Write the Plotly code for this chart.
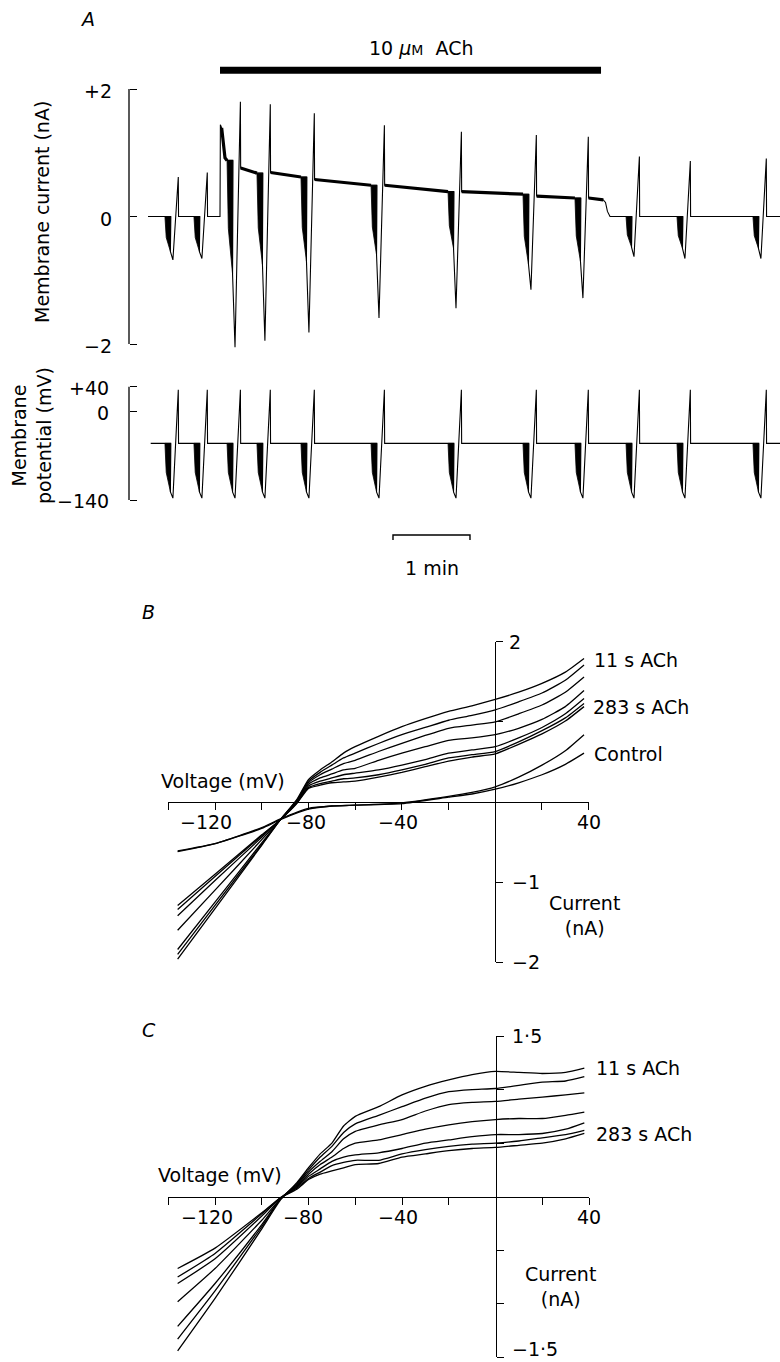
import plotly.graph_objects as go

W, H = 780, 1362
FONT = "DejaVu Sans"
INK = "black"
FS = 19

# ---------------------------------------------------------------
# Panel A: continuous record (time in s from start of record)
# ---------------------------------------------------------------
ach_on, ach_off = 56.1, 353.0
record_end = 492.5
ramp_t = [13.2, 35.8, 61.6, 84.9, 119.2, 173.8, 233.8, 292.2, 332.7, 372.5, 412.2, 471.4]
# membrane current (nA) around each voltage protocol
hold_pre = [0.0, 0.0, 0.88, 0.68, 0.62, 0.49, 0.39, 0.35, 0.29, 0.0, 0.0, 0.0]
hold_post = [0.0, 0.0, 0.76, 0.69, 0.58, 0.49, 0.39, 0.32, 0.29, 0.0, 0.0, 0.0]
step_min = [-0.55, -0.55, -0.90, -0.75, -0.70, -0.60, -0.50, -0.75, -0.70, -0.48, -0.50, -0.50]
ramp_min = [-0.68, -0.66, -2.05, -1.95, -1.82, -1.59, -1.44, -1.15, -1.28, -0.63, -0.66, -0.66]
ramp_max = [0.62, 0.69, 1.80, 1.76, 1.62, 1.43, 1.33, 1.28, 1.25, 0.94, 0.87, 0.91]
# holding current where it changes between protocols
onset_t = [56.1, 56.4, 57.4, 58.7, 60.0]
onset_i = [0.0, 1.44, 1.39, 1.13, 0.92]
wash_t = [354.8, 356.5, 358.0, 360.0]
wash_i = [0.26, 0.22, 0.08, 0.0]
# membrane potential (mV) of the protocol
v_hold, v_step, v_ramp_lo, v_ramp_hi = -50, -127, -137, 35
v_start = 2.1
scale_bar_t0, scale_bar_len = 190.9, 60.0

# timing inside one protocol (s after its start)
STEP_END, TIP, PEAK, BACK = 4.5, 6.2, 10.4, 10.6

# ---------------------------------------------------------------
# Panels B and C: current-voltage relations
# ---------------------------------------------------------------
V_iv = [-136, -120, -100, -92, -85, -80, -75, -70, -65, -60, -50, -40, -30, -20, -10, 0, 10, 20, 30, 38]
B_ach = [
    [-1.96, -1.33, -0.54, -0.22, 0.03, 0.28, 0.40, 0.50, 0.61, 0.69, 0.82, 0.94, 1.04, 1.13, 1.20, 1.28, 1.37, 1.48, 1.62, 1.79],
    [-1.90, -1.29, -0.53, -0.22, 0.02, 0.26, 0.37, 0.46, 0.55, 0.61, 0.73, 0.84, 0.93, 1.02, 1.08, 1.15, 1.25, 1.36, 1.52, 1.71],
    [-1.84, -1.25, -0.51, -0.22, 0.01, 0.24, 0.34, 0.41, 0.48, 0.52, 0.63, 0.73, 0.83, 0.92, 0.96, 1.00, 1.10, 1.21, 1.37, 1.56],
    [-1.60, -1.10, -0.47, -0.22, 0.00, 0.22, 0.30, 0.35, 0.40, 0.42, 0.52, 0.61, 0.69, 0.77, 0.80, 0.84, 0.92, 1.03, 1.19, 1.39],
    [-1.42, -0.98, -0.44, -0.22, -0.01, 0.20, 0.26, 0.30, 0.34, 0.36, 0.40, 0.46, 0.53, 0.61, 0.65, 0.69, 0.80, 0.93, 1.10, 1.29],
    [-1.34, -0.93, -0.42, -0.22, -0.01, 0.18, 0.23, 0.26, 0.29, 0.30, 0.34, 0.40, 0.47, 0.55, 0.59, 0.63, 0.75, 0.89, 1.05, 1.23],
    [-1.29, -0.90, -0.41, -0.22, -0.02, 0.17, 0.21, 0.24, 0.25, 0.26, 0.31, 0.37, 0.44, 0.51, 0.56, 0.60, 0.72, 0.85, 1.01, 1.19],
]
V_ctrl = [-136, -120, -100, -92, -80, -70, -60, -40, -20, -10, 0, 10, 20, 30, 38]
B_ctrl = [
    [-0.61, -0.52, -0.32, -0.21, -0.08, -0.05, -0.04, -0.01, 0.07, 0.12, 0.19, 0.31, 0.46, 0.64, 0.84],
    [-0.62, -0.52, -0.33, -0.22, -0.09, -0.05, -0.04, -0.02, 0.06, 0.10, 0.16, 0.24, 0.34, 0.47, 0.61],
]
C_ach = [
    [-1.44, -0.95, -0.30, -0.03, 0.13, 0.27, 0.40, 0.50, 0.66, 0.75, 0.84, 0.95, 1.03, 1.09, 1.14, 1.17, 1.16, 1.15, 1.16, 1.20],
    [-1.33, -0.88, -0.28, -0.02, 0.12, 0.25, 0.37, 0.47, 0.60, 0.68, 0.76, 0.84, 0.92, 0.98, 1.00, 1.01, 1.04, 1.07, 1.08, 1.12],
    [-1.21, -0.81, -0.26, -0.02, 0.11, 0.23, 0.33, 0.42, 0.54, 0.61, 0.67, 0.72, 0.80, 0.86, 0.88, 0.89, 0.91, 0.93, 0.95, 0.97],
    [-0.98, -0.67, -0.22, -0.02, 0.10, 0.21, 0.30, 0.37, 0.45, 0.50, 0.53, 0.58, 0.63, 0.67, 0.70, 0.72, 0.73, 0.73, 0.76, 0.79],
    [-0.81, -0.58, -0.18, -0.01, 0.09, 0.19, 0.26, 0.33, 0.37, 0.39, 0.41, 0.45, 0.50, 0.53, 0.56, 0.58, 0.58, 0.59, 0.63, 0.69],
    [-0.75, -0.53, -0.16, -0.01, 0.08, 0.17, 0.23, 0.29, 0.32, 0.34, 0.34, 0.40, 0.44, 0.47, 0.49, 0.50, 0.52, 0.55, 0.58, 0.62],
    [-0.67, -0.48, -0.15, -0.01, 0.07, 0.16, 0.21, 0.24, 0.27, 0.30, 0.31, 0.37, 0.40, 0.43, 0.45, 0.46, 0.48, 0.50, 0.54, 0.59],
]


def px_x(p):
    return p / W


def px_y(p):
    return 1 - p / H


def dom(zero_px, px_per_unit, lo, hi):
    """paper-coordinate domain for a vertical axis spanning [lo, hi]"""
    return [px_y(zero_px - lo * px_per_unit), px_y(zero_px - hi * px_per_unit)]


# ---------------- build the current record ----------------
knots = sorted(zip(onset_t + wash_t, onset_i + wash_i))
pts = [(0.0, 0.0, True)]
wedge_x, wedge_y = [], []
k = 0
for i, t0 in enumerate(ramp_t):
    while k < len(knots) and knots[k][0] < t0:
        pts.append((knots[k][0], knots[k][1], True))
        k += 1
    pre, post = hold_pre[i], hold_post[i]
    pts += [(t0, pre, True), (t0 + STEP_END, pre, False),
            (t0 + STEP_END * 0.95, step_min[i], False), (t0 + TIP, ramp_min[i], False),
            (t0 + PEAK, ramp_max[i], False), (t0 + BACK, post, True)]
    wedge_x += [t0, t0 + STEP_END, t0 + STEP_END * 0.95, t0 + 1.0, t0, None]
    wedge_y += [pre, pre, step_min[i], pre + 0.6 * (step_min[i] - pre), pre, None]
while k < len(knots):
    pts.append((knots[k][0], knots[k][1], True))
    k += 1
pts.append((record_end, 0.0, True))

cur_x = [p[0] for p in pts]
cur_y = [p[1] for p in pts]

# heavier trace where the holding current is noisy in ACh
thick_x, thick_y = [], []
for t, y, held in pts:
    if held and onset_t[2] <= t <= wash_t[0]:
        thick_x.append(t)
        thick_y.append(y)
    elif thick_x and thick_x[-1] is not None:
        thick_x.append(None)
        thick_y.append(None)

# ---------------- build the potential record ----------------
pot_x, pot_y = [v_start], [v_hold]
pw_x, pw_y = [], []
for t0 in ramp_t:
    pot_x += [t0, t0 + STEP_END, t0 + STEP_END * 0.95, t0 + TIP, t0 + PEAK, t0 + BACK]
    pot_y += [v_hold, v_hold, v_step, v_ramp_lo, v_ramp_hi, v_hold]
    pw_x += [t0, t0 + STEP_END, t0 + STEP_END * 0.95, t0 + 1.0, t0, None]
    pw_y += [v_hold, v_hold, v_step, v_hold + 0.6 * (v_step - v_hold), v_hold, None]
pot_x.append(record_end)
pot_y.append(v_hold)

fig = go.Figure()

line_thin = dict(color=INK, width=1.1)
fig.add_trace(go.Scatter(x=wedge_x, y=wedge_y, xaxis="x", yaxis="y", mode="lines",
                         fill="toself", fillcolor=INK, line=dict(color=INK, width=0.8),
                         hoverinfo="skip"))
fig.add_trace(go.Scatter(x=cur_x, y=cur_y, xaxis="x", yaxis="y", mode="lines",
                         line=line_thin, hoverinfo="skip"))
fig.add_trace(go.Scatter(x=thick_x, y=thick_y, xaxis="x", yaxis="y", mode="lines",
                         line=dict(color=INK, width=3.2), hoverinfo="skip"))
fig.add_trace(go.Scatter(x=pw_x, y=pw_y, xaxis="x", yaxis="y2", mode="lines",
                         fill="toself", fillcolor=INK, line=dict(color=INK, width=0.8),
                         hoverinfo="skip"))
fig.add_trace(go.Scatter(x=pot_x, y=pot_y, xaxis="x", yaxis="y2", mode="lines",
                         line=line_thin, hoverinfo="skip"))

iv_line = dict(color=INK, width=1.3, shape="spline", smoothing=0.5)
for curve in B_ach:
    fig.add_trace(go.Scatter(x=V_iv, y=curve, xaxis="x2", yaxis="y3", mode="lines",
                             line=iv_line, hoverinfo="skip"))
for curve in B_ctrl:
    fig.add_trace(go.Scatter(x=V_ctrl, y=curve, xaxis="x2", yaxis="y3", mode="lines",
                             line=iv_line, hoverinfo="skip"))
for curve in C_ach:
    fig.add_trace(go.Scatter(x=V_iv, y=curve, xaxis="x3", yaxis="y4", mode="lines",
                             line=iv_line, hoverinfo="skip"))

# ---------------- axes ----------------
t_per_px = 60 / 77
hidden = dict(visible=False, showgrid=False, zeroline=False)
tick_common = dict(showgrid=False, zeroline=False, showticklabels=False,
                   tickcolor=INK, tickwidth=1.3, ticklen=7, linecolor=INK, linewidth=1.3)

layout = dict(
    width=W, height=H, margin=dict(l=0, r=0, t=0, b=0),
    paper_bgcolor="white", plot_bgcolor="rgba(0,0,0,0)", showlegend=False,
    font=dict(family=FONT, size=FS, color=INK),
    xaxis=dict(domain=[0, 1], range=[-148 * t_per_px, (W - 148) * t_per_px], **hidden),
    yaxis=dict(domain=dom(216.5, 63.75, -2.2, 2.2), range=[-2.2, 2.2], anchor="free",
               position=px_x(129), ticks="inside", tickvals=[-2, 0, 2], showline=False,
               **tick_common),
    yaxis2=dict(domain=dom(411.9, 0.6296, -150, 52), range=[-150, 52], anchor="free",
                position=px_x(129), ticks="inside", tickvals=[-140, 0, 40], showline=False,
                **tick_common),
    xaxis2=dict(domain=[px_x(168.3), px_x(588.7)], range=[-140, 40], anchor="free",
                position=px_y(802), ticks="outside",
                tickvals=[-140, -120, -100, -80, -60, -40, -20, 20, 40], showline=True,
                **tick_common),
    yaxis3=dict(domain=dom(802, 80.15, -2, 2), range=[-2, 2], anchor="free",
                position=px_x(495.3), side="right", ticks="outside",
                tickvals=[-2, -1, 1, 2], showline=True, **tick_common),
    xaxis3=dict(domain=[px_x(168.3), px_x(589)], range=[-140, 40], anchor="free",
                position=px_y(1196.7), ticks="outside",
                tickvals=[-140, -120, -100, -80, -60, -40, -20, 20, 40], showline=True,
                **tick_common),
    yaxis4=dict(domain=dom(1196.7, 107.13, -1.5, 1.5), range=[-1.5, 1.5], anchor="free",
                position=px_x(495.5), side="right", ticks="outside",
                tickvals=[-1.5, -1, -0.5, 0.5, 1, 1.5], showline=True, **tick_common),
)

shapes = [
    dict(type="line", xref="paper", yref="y", x0=px_x(129), x1=px_x(129), y0=-2, y1=2,
         line=dict(color=INK, width=1.3)),
    dict(type="line", xref="paper", yref="y2", x0=px_x(129), x1=px_x(129), y0=-140, y1=40,
         line=dict(color=INK, width=1.3)),
    # drug application bar
    dict(type="line", xref="x", yref="paper", x0=ach_on, x1=ach_off,
         y0=px_y(70.3), y1=px_y(70.3), line=dict(color=INK, width=7)),
    # time calibration
    dict(type="path", xref="x", yref="paper",
         path=(f"M {scale_bar_t0},{px_y(540)} L {scale_bar_t0},{px_y(535)} "
               f"L {scale_bar_t0 + scale_bar_len},{px_y(535)} "
               f"L {scale_bar_t0 + scale_bar_len},{px_y(540)}"),
         line=dict(color=INK, width=1.4)),
]

ann = []


def text(t, x, y, xanchor="center", yanchor="middle", xref="paper", yref="paper",
         size=FS, angle=0, xshift=0, yshift=0):
    if xref == "paper":
        x = px_x(x)
    if yref == "paper":
        y = px_y(y)
    ann.append(dict(text=t, x=x, y=y, xref=xref, yref=yref, xanchor=xanchor,
                    yanchor=yanchor, showarrow=False, textangle=angle,
                    xshift=xshift, yshift=yshift, borderpad=0,
                    font=dict(family=FONT, size=size, color=INK)))


# panel A
text("<i>A</i>", 87, 19)
text("10 <i>μ</i><span style='font-size:14px'>M</span>\u00a0\u00a0ACh", 421, 48)
for val, lab in [(2, "+2"), (0, "0"), (-2, "−2")]:
    text(lab, 113, val, xanchor="right", yref="y", yshift=-2)
for val, lab in [(40, "+40"), (0, "0"), (-140, "−140")]:
    text(lab, 110, val, xanchor="right", yref="y2", yshift=-1)
text("Membrane current (nA)", 42, 212, angle=-90)
text("Membrane<br>potential (mV)", 31, 436, angle=-90)
text("1 min", 432, 568)

# panel B
text("<i>B</i>", 148, 612)
text("Voltage (mV)", 160, 781, xanchor="left")
for val, lab, dx in [(-120, "−120", -9), (-80, "−80", -2), (-40, "−40", -4), (40, "40", 0)]:
    text(lab, val, 822, xref="x2", xshift=dx)
text("2", 508, 2, xanchor="left", yref="y3")
text("−1", 511, -1, xanchor="left", yref="y3")
text("−2", 511, -2, xanchor="left", yref="y3")
text("11 s ACh", 593, 660, xanchor="left")
text("283 s ACh", 592, 707, xanchor="left")
text("Control", 593, 754, xanchor="left")
text("Current<br>(nA)", 584, 915)

# panel C
text("<i>C</i>", 149, 1030)
text("Voltage (mV)", 157, 1175, xanchor="left")
for val, lab, dx in [(-120, "−120", -8), (-80, "−80", -6), (-40, "−40", -4), (40, "40", 0)]:
    text(lab, val, 1217, xref="x3", xshift=dx)
text("1·5", 511, 1.5, xanchor="left", yref="y4")
text("−1·5", 511, 1361, xanchor="left", yanchor="bottom")
text("11 s ACh", 595, 1068, xanchor="left")
text("283 s ACh", 595, 1134, xanchor="left")
text("Current<br>(nA)", 560, 1286)

layout["shapes"] = shapes
layout["annotations"] = ann
fig.update_layout(**layout)
fig.write_html("out.html")
